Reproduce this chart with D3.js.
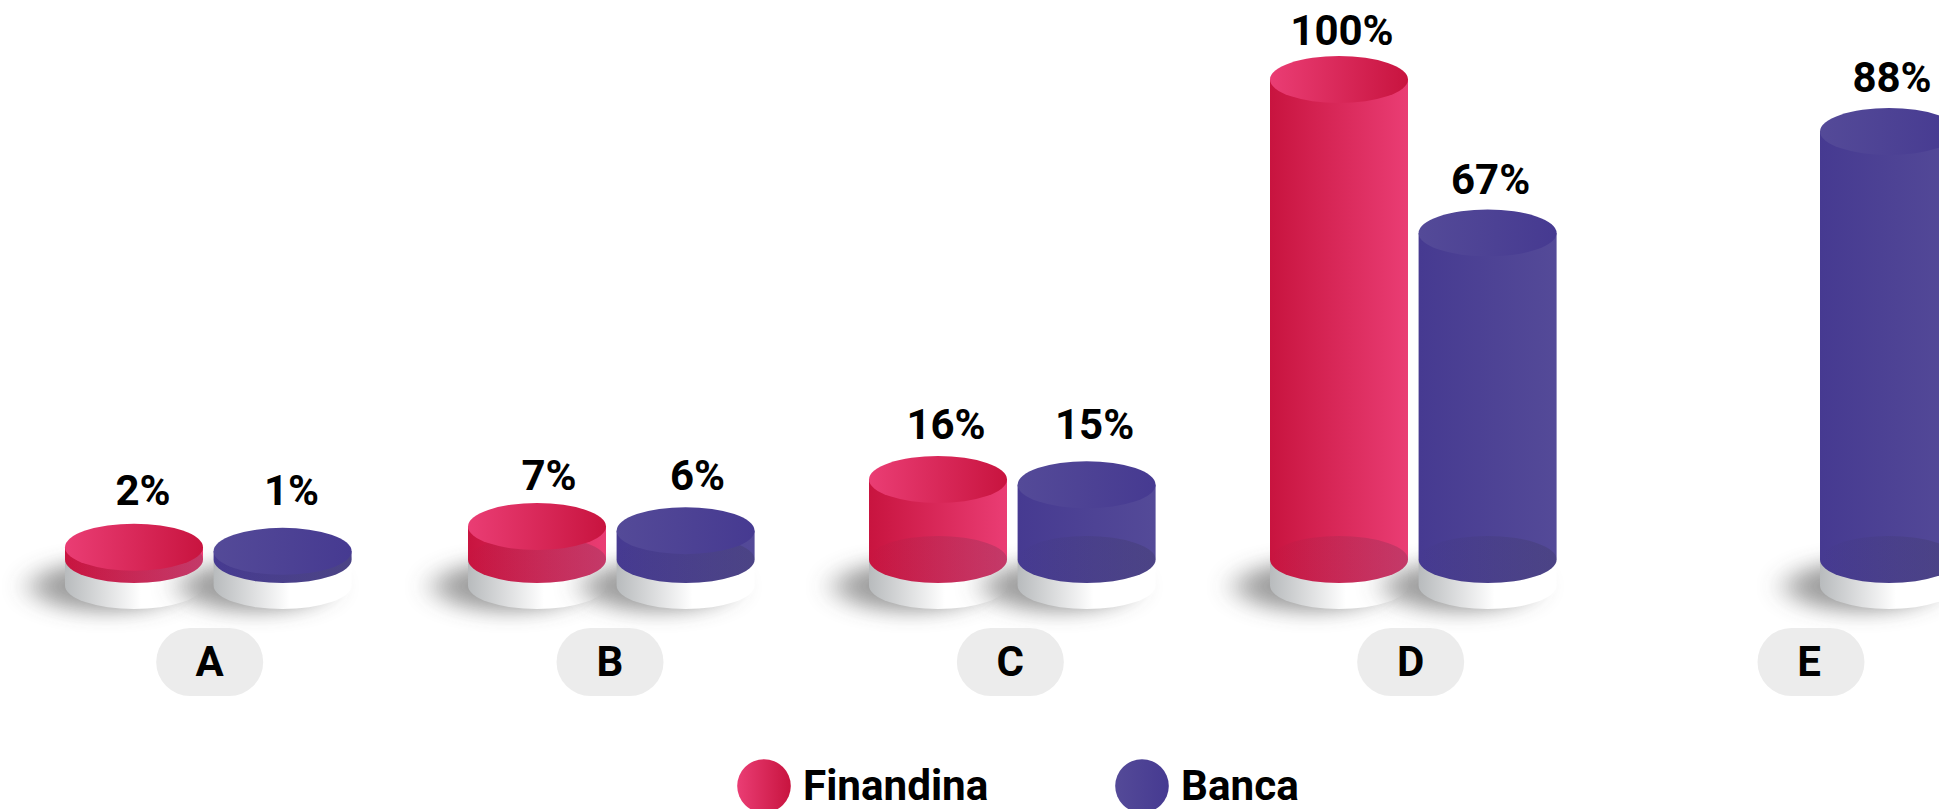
<!DOCTYPE html>
<html><head><meta charset="utf-8">
<script src="https://cdnjs.cloudflare.com/ajax/libs/d3/7.8.5/d3.min.js"></script>
<style>
html,body{margin:0;padding:0;background:#fff;overflow:hidden}
svg{display:block}
text{font-family:Roboto,sans-serif;font-weight:700;fill:#000}
</style></head><body>
<script>
const categories = ["A","B","C","D","E"];
const seriesNames = ["Finandina","Banca"];
const finandina = [2,7,16,100,null];
const banca = [1,6,15,67,88];

const W=1939,H=809;
const svg=d3.select("body").append("svg").attr("width",W).attr("height",H);
const defs=svg.append("defs");
function grad(id,stops){
  const g=defs.append("linearGradient").attr("id",id);
  stops.forEach(s=>g.append("stop").attr("offset",s[0]).attr("stop-color",s[1]).attr("stop-opacity",s[2]===undefined?1:s[2]));
}
const palette=[
 {light:"#ea3d74",dark:"#c8143f"},
 {light:"#544a98",dark:"#463a91"}
];
palette.forEach((p,i)=>{
  grad("top"+i,[[0,p.light],[1,p.dark]]);
  grad("body"+i,[[0,p.dark],[1,p.light]]);
});
grad("ped",[[0,"#b8bbbd"],[.3,"#dfe0e1"],[.55,"#ffffff"],[1,"#ffffff"]]);
grad("inner",[[0,"#2a2a3a",0],[.25,"#2a2a3a",.06],[1,"#2a2a3a",.2]]);
const blur=defs.append("filter").attr("id","blur").attr("x","-60%").attr("y","-100%").attr("width","220%").attr("height","300%");
blur.append("feGaussianBlur").attr("stdDeviation","15 10");

const baseY=559.5, rx=69, ry=23.5, pedestal=26;
// calibrated height scale: the artwork is not perfectly proportional at small values
const h=d3.scaleLinear().domain([0,7,16,88,100]).range([4,33,80,428,480]);
const x0=d3.scaleOrdinal().domain(categories).range([208.3,611.3,1012.3,1413.3,1814.7]);
const xPill=d3.scalePoint().domain(categories).range([209.7,1811]);
const xSeries=d3.scalePoint().domain(seriesNames).range([-74.3,74.3]);
const labelShift=d3.scaleOrdinal().domain(categories).range([9,12,8,3,3]);
const labelDy=d3.scaleOrdinal().domain(categories).range([-42,-37,-40.5,-39.5,-40]);

const data=[];
categories.forEach((c,i)=>{
  [finandina,banca].forEach((arr,s)=>{
    if(arr[i]!=null) data.push({c,s,v:arr[i],name:seriesNames[s],i});
  });
});
function cyl(cx,top,bottom){
  return `M${cx-rx},${top}L${cx-rx},${bottom}A${rx},${ry} 0 0 0 ${cx+rx},${bottom}L${cx+rx},${top}Z`;
}
const cxOf=d=>x0(d.c)+xSeries(d.name);
const topOf=d=>baseY-h(d.v);

svg.append("g").selectAll("g").data(data).join("g").each(function(d){
  const cx=cxOf(d), sel=d3.select(this);
  sel.append("ellipse").attr("cx",cx-28).attr("cy",baseY+27).attr("rx",74).attr("ry",25)
     .attr("fill","#444").attr("opacity",.52).attr("filter","url(#blur)");
  sel.append("path").attr("d",cyl(cx,baseY,baseY+pedestal)).attr("fill","url(#ped)");
});
svg.append("g").selectAll("g").data(data).join("g").each(function(d){
  const cx=cxOf(d), top=topOf(d), sel=d3.select(this);
  sel.append("path").attr("d",cyl(cx,top,baseY)).attr("fill",`url(#body${d.s})`);
  sel.append("ellipse").attr("cx",cx).attr("cy",baseY).attr("rx",rx).attr("ry",ry).attr("fill","url(#inner)");
  sel.append("ellipse").attr("cx",cx).attr("cy",top).attr("rx",rx).attr("ry",ry).attr("fill",`url(#top${d.s})`);
});

// in the short groups both labels share the baseline set by the taller bar
function labelY(d){
  const red=finandina[d.i];
  const ref=(red!=null && red<20)?red:d.v;
  return Math.max(45,baseY-h(ref)+labelDy(d.c));
}
svg.selectAll("text.val").data(data).join("text").attr("class","val")
  .attr("text-anchor","middle").attr("font-size",42)
  .attr("x",d=>cxOf(d)+labelShift(d.c))
  .attr("y",labelY)
  .text(d=>d.v+"%");

const pills=svg.selectAll("g.pill").data(categories).join("g").attr("class","pill");
pills.append("rect").attr("x",c=>xPill(c)-53.5).attr("y",628).attr("width",107).attr("height",68).attr("rx",34).attr("fill","#ececec");
pills.append("text").attr("x",c=>xPill(c)-(c==="E"?2:0)).attr("y",676).attr("text-anchor","middle").attr("font-size",42).text(c=>c);

const xLegend=d3.scalePoint().domain(seriesNames).range([764,1142]);
const leg=svg.selectAll("g.leg").data(seriesNames).join("g").attr("class","leg");
leg.append("circle").attr("cx",d=>xLegend(d)).attr("cy",786).attr("r",26.8).attr("fill",(d,i)=>`url(#top${i})`);
leg.append("text").attr("x",d=>xLegend(d)+39).attr("y",799.5).attr("font-size",42.2).text(d=>d);
</script>
</body></html>
